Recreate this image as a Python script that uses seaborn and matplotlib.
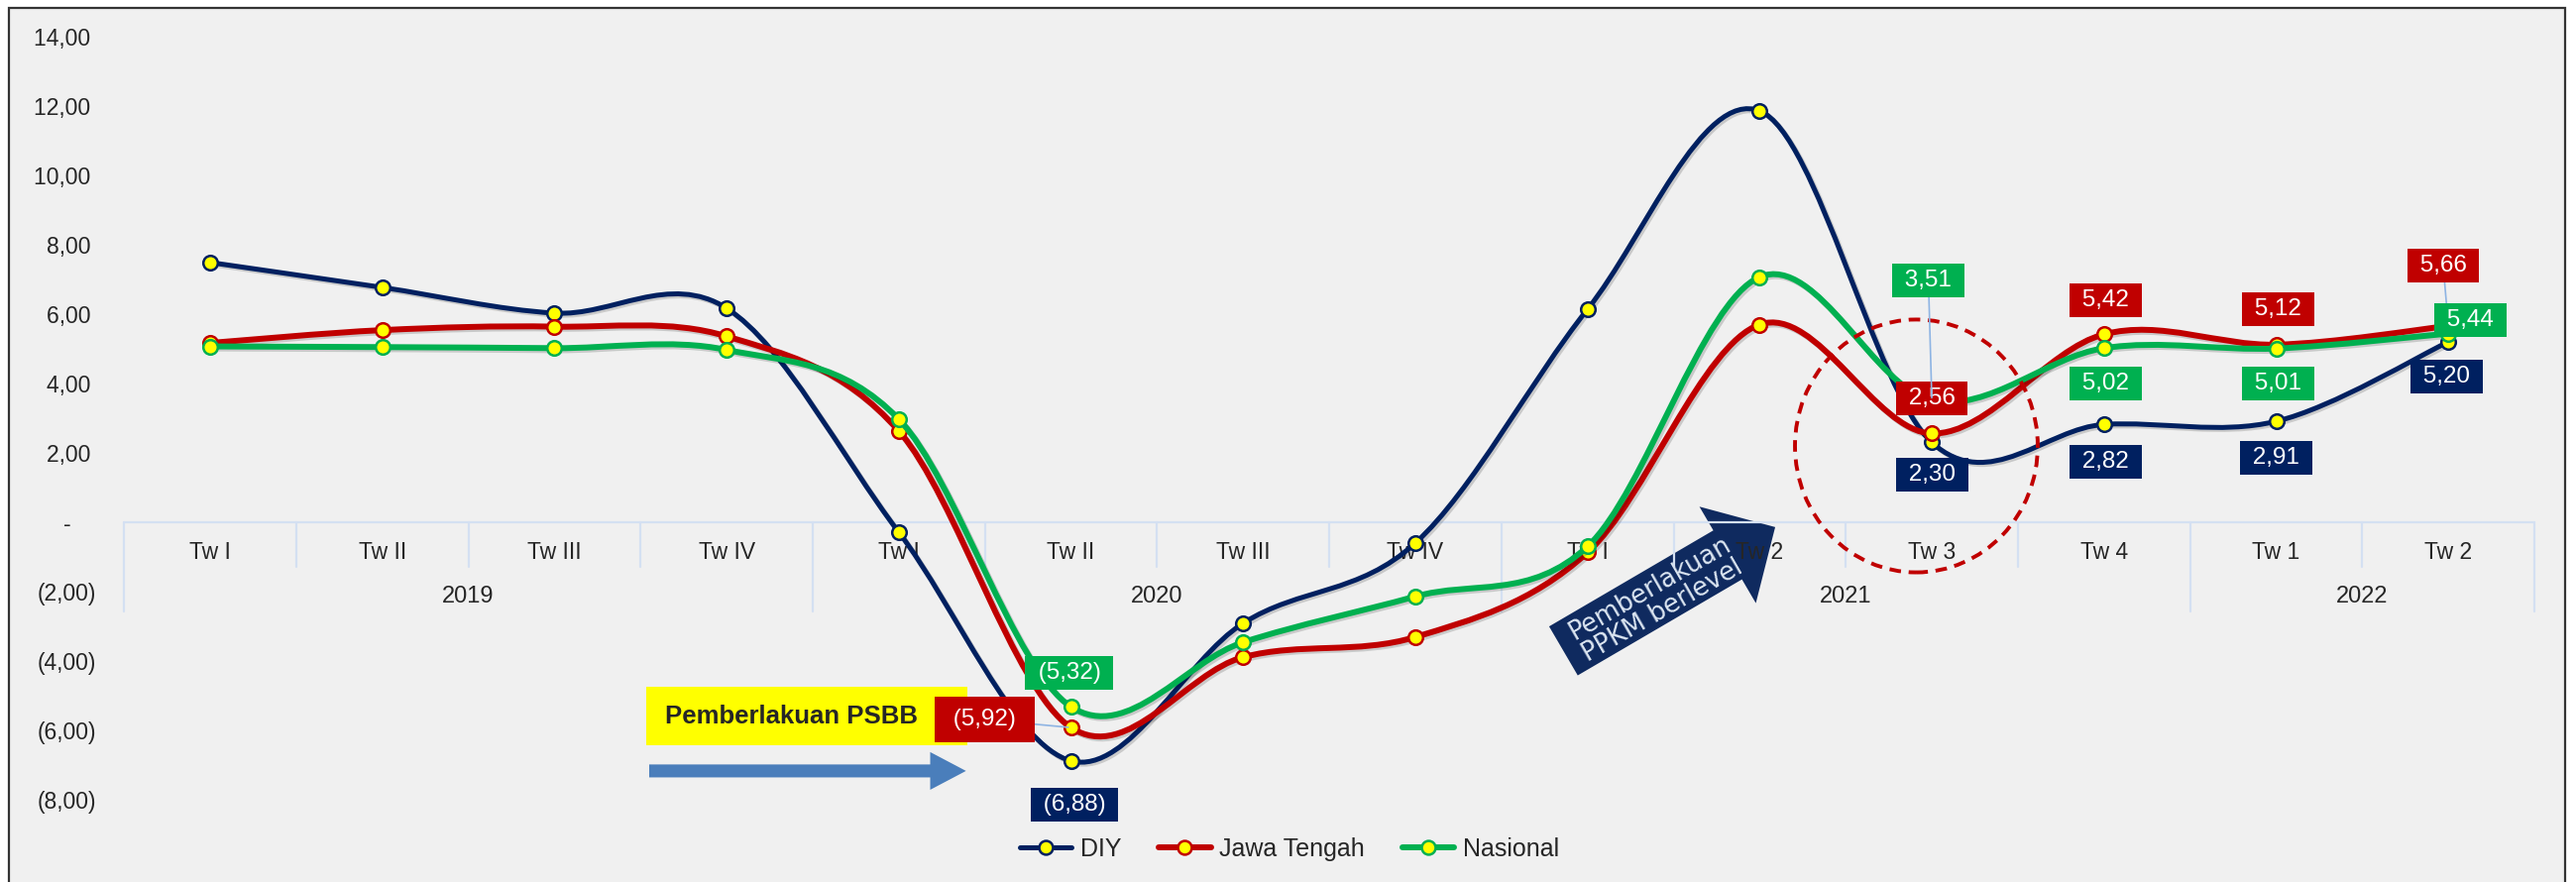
import numpy as np
import pandas as pd
import matplotlib
matplotlib.use("Agg")
import matplotlib.pyplot as plt
import seaborn as sns
from matplotlib.path import Path
from matplotlib.patches import PathPatch, Rectangle, Ellipse
from matplotlib.lines import Line2D
import matplotlib.patheffects as pe

# data
quarters = ["Tw I", "Tw II", "Tw III", "Tw IV", "Tw I", "Tw II", "Tw III", "Tw IV",
            "Tw I", "Tw 2", "Tw 3", "Tw 4", "Tw 1", "Tw 2"]
years = ["2019", "2020", "2021", "2022"]
year_len = [4, 4, 4, 2]

diy = [7.49, 6.77, 6.03, 6.17, -0.29, -6.88, -2.91, -0.60, 6.14, 11.86, 2.30, 2.82, 2.91, 5.20]
jateng = [5.17, 5.54, 5.64, 5.36, 2.63, -5.92, -3.89, -3.31, -0.87, 5.70, 2.56, 5.42, 5.12, 5.66]
nasional = [5.07, 5.05, 5.02, 4.97, 2.97, -5.32, -3.46, -2.14, -0.70, 7.07, 3.51, 5.02, 5.01, 5.44]

series_names = ["DIY", "Jawa Tengah", "Nasional"]
colors = ["#002060", "#C00000", "#00B050"]
widths = [3.6, 4.3, 4.3]

# which points carry a value label, and where the label box sits
labelled = [5, 10, 11, 12, 13]
label_pos = {
    "DIY": [(5.02, -8.14), (10.0, 1.37), (11.01, 1.75), (12.0, 1.85), (12.99, 4.2)],
    "Jawa Tengah": [(4.5, -5.69), (10.0, 3.57), (11.01, 6.4), (12.01, 6.15), (12.97, 7.39)],
    "Nasional": [(4.99, -4.34), (9.98, 6.98), (11.01, 4.0), (12.01, 4.01), (13.13, 5.84)],
}
leaders = {("Jawa Tengah", 5), ("Nasional", 10), ("Jawa Tengah", 13)}

x = np.arange(len(quarters))
df = pd.DataFrame({"pos": np.tile(x, 3),
                   "value": diy + jateng + nasional,
                   "series": np.repeat(series_names, len(x))})


def fmt(v):
    s = f"{abs(v):.2f}".replace(".", ",")
    return f"({s})" if v < 0 else s


def smooth_path(xs, ys):
    # excel style smoothed line: cubic bezier through every point
    p = np.column_stack([xs, ys]).astype(float)
    n = len(p)
    verts = [p[0]]
    codes = [Path.MOVETO]
    for i in range(n - 1):
        p0 = p[i - 1] if i > 0 else p[i]
        p3 = p[i + 2] if i + 2 < n else p[i + 1]
        c1 = p[i] + (p[i + 1] - p0) / 6
        c2 = p[i + 1] - (p3 - p[i]) / 6
        verts += [c1, c2, p[i + 1]]
        codes += [Path.CURVE4] * 3
    return Path(verts, codes)


sns.set_style("white")
plt.rcParams["font.family"] = ["Liberation Sans", "DejaVu Sans"]

fig = plt.figure(figsize=(25.99, 8.90), dpi=100, facecolor="white")
fig.patches.append(Rectangle((9 / 2599, -0.05), 2579 / 2599, 1.05 - 8 / 890,
                             transform=fig.transFigure, facecolor="#F0F0F0",
                             edgecolor="#333333", lw=1.6, zorder=-10))
ax = fig.add_axes([0.04817, 0.0933, 0.9357, 0.8651])
ax.set_facecolor("none")
for s in ax.spines.values():
    s.set_visible(False)

# smoothed lines + markers
shadow = [pe.SimpleLineShadow(offset=(1.5, -1.5), shadow_color="black", alpha=0.16), pe.Normal()]
for k, name in enumerate(series_names):
    d = df[df["series"] == name]
    line = PathPatch(smooth_path(d["pos"], d["value"]), facecolor="none",
                     edgecolor=colors[k], lw=widths[k], capstyle="round",
                     joinstyle="round", zorder=3 + k)
    line.set_path_effects(shadow)
    ax.add_patch(line)
    sns.scatterplot(data=d, x="pos", y="value", color="#FFFF00", edgecolor=colors[k],
                    linewidth=1.8, s=110, zorder=3.5 + k, ax=ax, legend=False)
ax.set_xlabel("")
ax.set_ylabel("")
ax.set_xlim(-0.5, 13.5)
ax.set_ylim(-8, 14)

yt = np.arange(-8, 15, 2)
ylabels = []
for v in yt:
    if v == 0:
        ylabels.append("-    ")
    elif v < 0:
        ylabels.append(fmt(v))
    else:
        ylabels.append(fmt(v) + " ")
ax.set_yticks(yt)
ax.set_yticklabels(ylabels, fontsize=16.5)
ax.tick_params(axis="y", length=0, pad=20)
ax.set_xticks([])

# multi level category axis drawn at zero
sep_col = "#D4E0F2"
ax.plot([-0.5, 13.5], [0, 0], color=sep_col, lw=1.6, zorder=1, clip_on=False)
year_edges = np.concatenate([[0], np.cumsum(year_len)]) - 0.5
for b in np.arange(-0.5, 14, 1):
    low = -2.57 if b in year_edges else -1.29
    ax.plot([b, b], [0, low], color=sep_col, lw=1.6, zorder=1, clip_on=False)
for i, q in enumerate(quarters):
    ax.text(i, -0.86, q, ha="center", va="center", fontsize=16.5, zorder=1)
for k, yr in enumerate(years):
    ax.text((year_edges[k] + year_edges[k + 1]) / 2, -2.14, yr,
            ha="center", va="center", fontsize=17, zorder=1)

# yellow PSBB note and its arrow
ax.add_patch(Rectangle((2.53, -6.43), 1.87, 1.69, facecolor="#FFFF00", edgecolor="none", zorder=6))
ax.text(2.64, -5.6, "Pemberlakuan PSBB", fontsize=18.5, fontweight="bold",
        ha="left", va="center", zorder=7)
ax.annotate("", xy=(4.39, -7.17), xytext=(2.55, -7.17),
            arrowprops=dict(arrowstyle="simple,head_length=1.3,head_width=1.37,tail_width=0.47",
                            mutation_scale=20, fc="#4A7EBB", ec="none",
                            shrinkA=0, shrinkB=0), zorder=6)

# value labels
for k, name in enumerate(series_names):
    vals = [diy, jateng, nasional][k]
    for j, idx in enumerate(labelled):
        lx, ly = label_pos[name][j]
        arrow = None
        if (name, idx) in leaders:
            arrow = dict(arrowstyle="-", color="#8EB4E3", lw=1.2, shrinkA=0, shrinkB=2)
        pad = 0.5 if (name, idx) == ("Jawa Tengah", 5) else 0.25
        ax.annotate(" " + fmt(vals[idx]) + " ", xy=(idx, vals[idx]), xytext=(lx, ly),
                    ha="center", va="center", color="white", fontsize=17.5,
                    bbox=dict(boxstyle=f"square,pad={pad}", fc=colors[k], ec="none"),
                    arrowprops=arrow, zorder=9, annotation_clip=False)

# PPKM arrow (under the category labels, like the original)
ax.annotate("", xy=(9.09, -0.14), xytext=(7.86, -3.71),
            arrowprops=dict(arrowstyle="simple,head_length=1.0,head_width=2.03,tail_width=1.03",
                            mutation_scale=40, fc="#0F2A5F", ec="none",
                            shrinkA=0, shrinkB=0), zorder=0.5)
ax.text(8.40, -2.23, "Pemberlakuan\nPPKM berlevel", rotation=30, rotation_mode="anchor",
        ha="center", va="center", color="#DCE6F2", fontsize=18.5, linespacing=1.0,
        family=["DejaVu Sans"], zorder=0.6)

# dashed circle around 2021 Tw 3
ax.add_patch(Ellipse((9.91, 2.2), 1.41, 7.29, facecolor="none", edgecolor="#C00000",
                     lw=2.8, linestyle=(0, (3, 2)), zorder=8))

handles = [Line2D([0], [0], color=colors[k], lw=widths[k], marker="o", markersize=10,
                  markerfacecolor="#FFFF00", markeredgecolor=colors[k], markeredgewidth=1.8)
           for k in range(3)]
fig.legend(handles, series_names, loc="center", bbox_to_anchor=(0.5006, 0.037), ncol=3,
           frameon=False, fontsize=18, handlelength=2.1, handletextpad=0.35,
           columnspacing=1.5)

fig.savefig("out.png", dpi=100, facecolor="white")
